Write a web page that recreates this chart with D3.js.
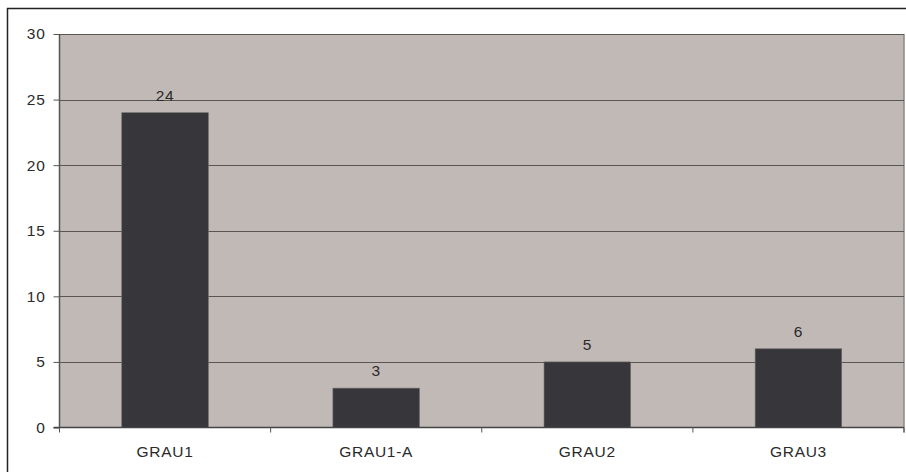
<!DOCTYPE html>
<html>
<head>
<meta charset="utf-8">
<script src="https://cdn.jsdelivr.net/npm/d3@7"></script>
<style>
  html, body { margin: 0; padding: 0; background: #fff; }
  svg { display: block; }
  text { font-family: "Liberation Sans", Arial, sans-serif; fill: #2a2a2a; letter-spacing: 0.7px; }
</style>
</head>
<body>
<svg id="chart" width="906" height="472"></svg>
<script>
// Counts per grade
const categories = ["GRAU1", "GRAU1-A", "GRAU2", "GRAU3"];
const values = [24, 3, 5, 6];
const yTicks = [0, 5, 10, 15, 20, 25, 30];

const W = 906, H = 472;
const margin = { left: 59.5, right: 2, top: 34, bottom: 44.5 };
const FS = 15.5;
const svg = d3.select("#chart");

// outer frame
svg.append("rect")
  .attr("x", 7.5).attr("y", 8.5)
  .attr("width", W + 10).attr("height", H + 10)
  .attr("fill", "none").attr("stroke", "#222").attr("stroke-width", 1.5);

const x = d3.scaleBand()
  .domain(categories)
  .range([margin.left, W - margin.right])
  .paddingInner(0.59).paddingOuter(0.295);

const y = d3.scaleLinear()
  .domain([0, 30])
  .range([H - margin.bottom, margin.top]);

const plotL = margin.left, plotR = W - margin.right;

// plot background
svg.append("rect")
  .attr("x", plotL).attr("y", y(30))
  .attr("width", plotR - plotL).attr("height", y(0) - y(30))
  .attr("fill", "#c1b9b6");

// right edge of the plot area
svg.append("line")
  .attr("x1", plotR).attr("x2", plotR)
  .attr("y1", y(30)).attr("y2", y(0) + 5)
  .attr("stroke", "#8e8684").attr("stroke-width", 1.5);

// horizontal gridlines
svg.append("g")
  .selectAll("line")
  .data(yTicks.filter(d => d > 0))
  .join("line")
  .attr("x1", plotL).attr("x2", plotR)
  .attr("y1", d => Math.round(y(d)) + 0.5).attr("y2", d => Math.round(y(d)) + 0.5)
  .attr("stroke", "#5a5656").attr("stroke-width", 1);

// bars
svg.append("g")
  .selectAll("rect")
  .data(values)
  .join("rect")
  .attr("x", (d, i) => x(categories[i]))
  .attr("y", d => y(d))
  .attr("width", x.bandwidth())
  .attr("height", d => y(0) - y(d))
  .attr("fill", "#37363b")
  .attr("stroke", "#6e6a6a").attr("stroke-width", 0.6);

// value labels
svg.append("g")
  .selectAll("text")
  .data(values)
  .join("text")
  .attr("x", (d, i) => x(categories[i]) + x.bandwidth() / 2)
  .attr("y", d => y(d) - 12)
  .attr("text-anchor", "middle")
  .attr("font-size", FS)
  .text(d => d);

// y axis
const yAxis = d3.axisLeft(y).tickValues(yTicks).tickSize(6).tickPadding(8);
const gy = svg.append("g")
  .attr("transform", `translate(${plotL},0)`)
  .call(yAxis);
gy.select(".domain").attr("stroke", "#555").attr("stroke-width", 1.5).attr("d", `M0,${y(30)}V${y(0)}`);
gy.selectAll(".tick line").attr("stroke", "#555");
gy.selectAll(".tick text").attr("font-size", FS).attr("fill", "#2a2a2a")
  .attr("font-family", "'Liberation Sans', Arial, sans-serif");

// x axis
const gx = svg.append("g")
  .attr("transform", `translate(0,${y(0)})`);
gx.append("line")
  .attr("x1", plotL - 6).attr("x2", plotR)
  .attr("stroke", "#444").attr("stroke-width", 1.5);
const boundaries = d3.range(categories.length + 1).map(i => plotL + i * (plotR - plotL) / categories.length);
gx.selectAll("line.sep")
  .data(boundaries)
  .join("line")
  .attr("class", "sep")
  .attr("x1", d => d).attr("x2", d => d)
  .attr("y1", 0).attr("y2", 5)
  .attr("stroke", "#555");
gx.selectAll("text")
  .data(categories)
  .join("text")
  .attr("x", d => x(d) + x.bandwidth() / 2)
  .attr("y", 29)
  .attr("text-anchor", "middle")
  .attr("font-size", FS)
  .text(d => d);
</script>
</body>
</html>
